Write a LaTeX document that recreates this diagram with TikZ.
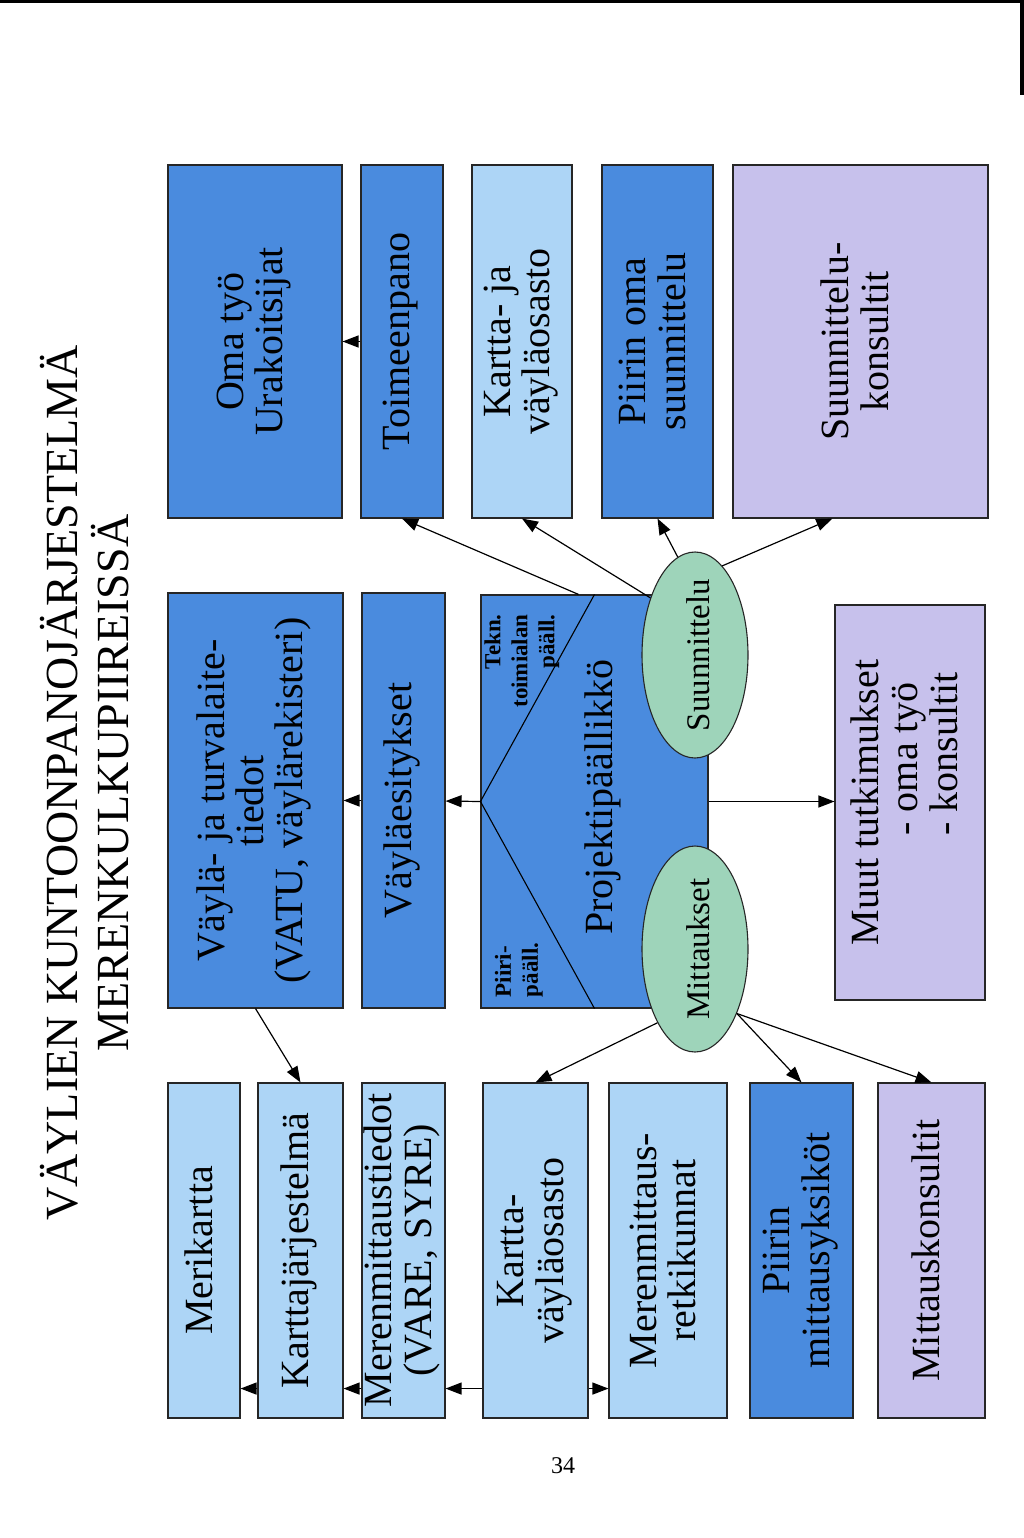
\documentclass[tikz,border=0pt]{standalone}
\usepackage{fontspec}
\setmainfont{Liberation Serif}
\usetikzlibrary{calc,arrows.meta,shapes.geometric}
\definecolor{dk-blue}{RGB}{74,139,222}
\definecolor{lt-blue}{RGB}{173,213,246}
\definecolor{lilac}{RGB}{199,193,236}
\definecolor{sea-green}{RGB}{158,212,186}
\newcommand{\vtxt}[2][c]{\rotatebox{90}{\begin{tabular}{@{}#1@{}}#2\end{tabular}}}
\newcommand{\Panel}[7]{
	%name, left, top, right, bottom, colour, text
	\node[panel, fill=#6, minimum width=#4-#2, minimum height=#5-#3] (#1) at ({(#2+#4)/2},{(#3+#5)/2}) {\vtxt{#7}};
}

\begin{document}
\begin{tikzpicture}[x=1pt,y=-1pt,
	panel/.style={draw=black!85,line width=1.1pt,inner sep=0pt,font=\fontsize{40}{39}\selectfont},
	oval/.style={ellipse,draw=black!85,line width=1.1pt,fill=sea-green,minimum width=106,minimum height=206,inner sep=0pt},
	ovaltext/.style={font=\fontsize{33}{33}\selectfont,xshift=8pt},
	arr/.style={-{Triangle[length=16pt,width=12pt]},line width=1.2pt},
	small/.style={font=\fontsize{23}{27}\selectfont\bfseries,inner sep=0pt}]

	\useasboundingbox (0,0) rectangle (1024,1538);
	%scan edges
	\fill[black] (0,0) rectangle (1024,3);
	\fill[black] (1020,0) rectangle (1024,95);

	%title
	\node[font=\fontsize{46}{45}\selectfont] (title) at (91,783) {\vtxt{VÄYLIEN KUNTOONPANOJÄRJESTELMÄ\\MERENKULKUPIIREISSÄ}};

	%top row
	\Panel{oma}{168}{165}{342}{518}{dk-blue}{Oma työ\\Urakoitsijat}
	\Panel{toim}{361}{165}{443}{518}{dk-blue}{Toimeenpano}
	\Panel{kjv}{472}{165}{572}{518}{lt-blue}{Kartta- ja\\väyläosasto}
	\Panel{posu}{602}{165}{713}{518}{dk-blue}{Piirin oma\\suunnittelu}
	\Panel{skons}{733}{165}{988}{518}{lilac}{Suunnittelu-\\konsultit}

	%middle row
	\Panel{vayla}{168}{593}{343}{1008}{dk-blue}{Väylä- ja turvalaite-\\tiedot\\(VATU, väylärekisteri)}
	\Panel{vesit}{362}{593}{445}{1008}{dk-blue}{Väyläesitykset}
	\Panel{proj}{481}{595}{708}{1008}{dk-blue}{}
	\Panel{muut}{835}{605}{985}{1000}{lilac}{}
	\node[font=\fontsize{40}{39}\selectfont] (muuttxt) at (muut) {\vtxt[l]{Muut tutkimukset\\\hspace*{110pt}- oma työ\\\hspace*{110pt}- konsultit}};

	%project manager box
	\draw[line width=1.1pt] (proj.north) -- (proj.west) -- (proj.south);
	\node[font=\fontsize{40}{39}\selectfont] (projtxt) at (604,797) {\vtxt{Projektipäällikkö}};
	\node[small] (tekn) at (522,661) {\vtxt[r]{Tekn.\\toimialan\\pääll.}};
	\node[small] (piiri) at (519,970) {\vtxt[l]{Piiri-\\pääll.}};

	%ovals
	\node[oval,label={[ovaltext]center:\vtxt{Suunnittelu}}] (suun) at (695,655) {};
	\node[oval,label={[ovaltext]center:\vtxt{Mittaukset}}] (mitt) at (695,949) {};

	%bottom row
	\foreach \nm/\xa/\xb/\col/\txt in {
		merik/168/240/lt-blue/Merikartta,
		kartj/258/343/lt-blue/Karttajärjestelmä,
		{mtied/362/445/lt-blue/Merenmittaustiedot\\(VARE, SYRE)},
		kvos/483/588/lt-blue/Kartta-\\väyläosasto,
		mretk/609/727/lt-blue/Merenmittaus-\\retkikunnat,
		pmitt/750/853/dk-blue/Piirin\\mittausyksiköt,
		mkons/878/985/lilac/Mittauskonsultit}{
		\Panel{\nm}{\xa}{1083}{\xb}{1418}{\col}{\txt}
	}

	%arrows
	\draw[arr] (toim) -- (oma);
	\draw[arr] ($(proj.north west)!.43!(proj.north east)$) -- (toim.south);
	\draw[arr] (suun.128) -- (kjv.south);
	\draw[arr] (suun.100) -- (posu.south);
	\draw[arr] (suun.73) -- ($(skons.south west)!.39!(skons.south east)$);
	\draw[arr] (vesit) -- (vayla);
	\draw[arr] (proj.west) -- (vesit);
	\draw[arr] (proj.east) -- (proj.east -| muut.west);
	\draw[arr] (vayla.south) -- (kartj.north);
	\draw[arr] (mitt.-117) -- (kvos.north);
	\draw[arr] (mitt.-57) -- (pmitt.north);
	\draw[arr] (mitt.-57) -- (mkons.north);
	\draw[arr] ([yshift=30pt]kartj.south west) -- ([yshift=30pt]merik.south east);
	\draw[arr] ([yshift=30pt]mtied.south west) -- ([yshift=30pt]kartj.south east);
	\draw[arr] ([yshift=30pt]kvos.south west) -- ([yshift=30pt]mtied.south east);
	\draw[arr] ([yshift=30pt]kvos.south east) -- ([yshift=30pt]mretk.south west);

	%page number
	\node[font=\fontsize{24}{24}\selectfont] (pnum) at (563,1466) {34};
\end{tikzpicture}
\end{document}
